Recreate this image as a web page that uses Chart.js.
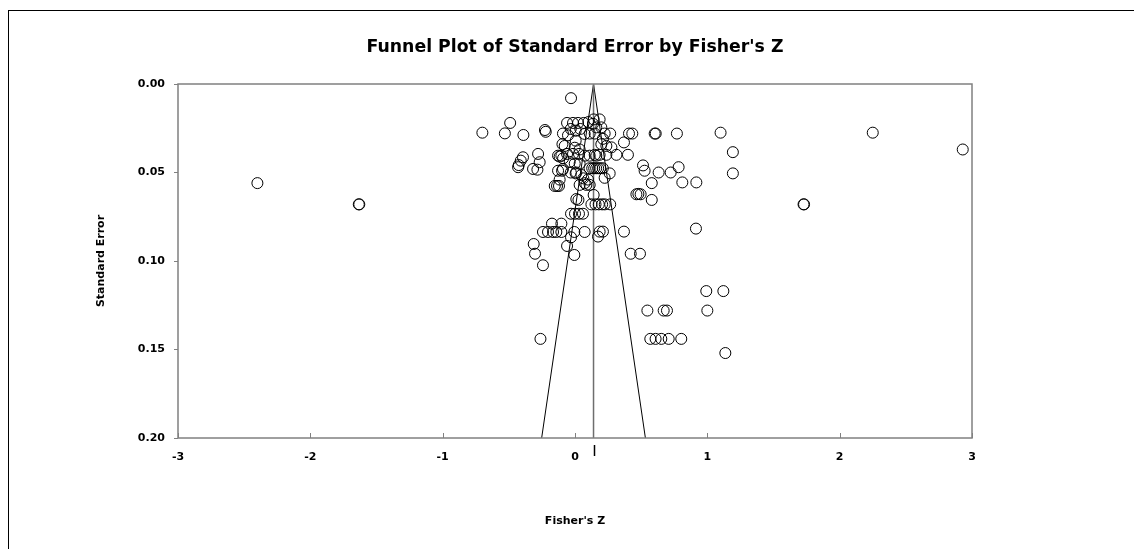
<!DOCTYPE html>
<html lang="en">
<head>
  <meta charset="UTF-8">
  <title>Funnel Plot of Standard Error by Fisher's Z</title>
  <script src="https://cdn.jsdelivr.net/npm/chart.js"></script>
  <style>
    body {
      margin: 0;
      background: #fff;
    }
    .wrap {
      position: relative;
      width: 1134px;
      height: 549px;
      overflow: hidden;
    }
    .frame {
      position: absolute;
      left: 8px;
      top: 10px;
      right: -4px;
      bottom: -4px;
      border-left: 1px solid #000;
      border-top: 1px solid #000;
    }
    canvas {
      position: absolute;
      left: 0;
      top: 0;
    }
  </style>
</head>
<body>
  <div class="wrap">
    <div class="frame"></div>
    <canvas id="funnel" width="1134" height="549"></canvas>
  </div>

  <script>
    // study effects (Fisher's Z) and their standard errors
    const fisherZ = [
      -2.40, -1.634, -1.630, 1.727, 1.731, 2.25, 2.93, 1.10, 1.193, 1.193,
      0.914, -0.70, -0.53, -0.49, -0.39, -0.227, -0.221, -0.03, -0.06, -0.015,
      0.023, 0.066, 0.101, 0.136, 0.141, 0.186, 0.161, 0.199, 0.111, 0.149,
      0.224, 0.266, 0.408, 0.433, 0.602, 0.610, 0.770, 0.211, 0.199, 0.237,
      0.275, 0.370, 0.313, 0.400, 0.149, 0.186, 0.237, 0.110, 0.130, 0.145,
      0.160, 0.175, 0.190, 0.210, 0.514, 0.526, 0.632, 0.723, 0.783, 0.262,
      0.224, 0.580, 0.811, 0.917, 0.464, 0.496, 0.580, 0.124, 0.155, 0.180,
      0.205, 0.225, 0.266, 0.141, 0.186, 0.211, 0.174, 0.370, 0.421, 0.491,
      -0.032, 0.005, 0.040, 0.073, -0.053, -0.091, -0.095, -0.078, 0.005, -0.002,
      0.035, -0.128, -0.103, -0.060, -0.015, 0.030, 0.073, 0.111, 0.161, -0.040,
      -0.002, 0.035, -0.091, -0.279, -0.267, -0.317, -0.430, -0.425, -0.410, -0.393,
      -0.284, -0.128, -0.098, -0.032, 0.010, -0.153, -0.136, -0.121, -0.116, 0.098,
      0.063, 0.086, 0.111, 0.035, 0.010, 0.026, 0.479, -0.030, 0.000, 0.030,
      0.060, -0.174, -0.103, -0.242, -0.204, -0.166, -0.141, -0.103, -0.005, 0.073,
      -0.030, -0.312, -0.060, -0.302, -0.005, -0.242, -0.261, 0.992, 1.121, 0.547,
      0.670, 0.695, 1.000, 0.569, 0.609, 0.652, 0.708, 0.803, 1.136, 0.005,
      0.048, 0.073, -0.116, -0.090
    ];
    const stdError = [
      0.056, 0.068, 0.068, 0.068, 0.068, 0.0275, 0.037, 0.0275, 0.0385, 0.0505,
      0.0817, 0.0275, 0.0279, 0.022, 0.0288, 0.026, 0.027, 0.008, 0.022, 0.022,
      0.022, 0.022, 0.0215, 0.0225, 0.020, 0.020, 0.0245, 0.0245, 0.028, 0.028,
      0.028, 0.028, 0.028, 0.028, 0.028, 0.028, 0.028, 0.031, 0.034, 0.035,
      0.0358, 0.033, 0.040, 0.040, 0.040, 0.040, 0.040, 0.0476, 0.0476, 0.0476,
      0.0476, 0.0476, 0.0476, 0.0476, 0.046, 0.049, 0.050, 0.050, 0.047, 0.0505,
      0.053, 0.056, 0.0556, 0.0556, 0.0623, 0.0623, 0.0655, 0.068, 0.068, 0.068,
      0.068, 0.068, 0.068, 0.0627, 0.0834, 0.0834, 0.0862, 0.0834, 0.0959, 0.0959,
      0.0254, 0.0264, 0.0254, 0.0282, 0.029, 0.028, 0.034, 0.035, 0.032, 0.036,
      0.037, 0.0405, 0.0405, 0.0395, 0.0395, 0.0395, 0.0405, 0.0405, 0.0405, 0.044,
      0.045, 0.045, 0.048, 0.0395, 0.0442, 0.048, 0.047, 0.0458, 0.0433, 0.0414,
      0.0484, 0.049, 0.049, 0.050, 0.050, 0.0576, 0.0576, 0.0576, 0.054, 0.054,
      0.0533, 0.057, 0.057, 0.057, 0.065, 0.0655, 0.0621, 0.0733, 0.0733, 0.0733,
      0.0733, 0.0789, 0.0789, 0.0836, 0.0836, 0.0836, 0.0836, 0.0836, 0.0836, 0.0836,
      0.0866, 0.0904, 0.0915, 0.0959, 0.0966, 0.1024, 0.144, 0.117, 0.117, 0.128,
      0.128, 0.128, 0.128, 0.144, 0.144, 0.144, 0.144, 0.144, 0.152, 0.0505,
      0.0514, 0.056, 0.041, 0.042
    ];

    // combined effect and the 95% funnel limits
    const meanZ = 0.14;
    const meanLineSE = [0, 0.2];
    const funnelZ = [-0.252, 0.14, 0.532];
    const funnelSE = [0.2, 0, 0.2];

    const xTicks = [-3, -2, -1, 0, 1, 2, 3];
    const yTicks = [0, 0.05, 0.1, 0.15, 0.2];

    const studies = fisherZ.map((z, i) => ({ x: z, y: stdError[i] }));
    const meanLine = meanLineSE.map(se => ({ x: meanZ, y: se }));
    const funnel = funnelZ.map((z, i) => ({ x: z, y: funnelSE[i] }));

    const wideFont = '"DejaVu Sans", Arial, sans-serif';
    const boldFont = { family: wideFont, size: 11, weight: 'bold' };

    // plot frame, inward x ticks and the little marker for the combined effect
    const plotExtras = {
      id: 'plotExtras',
      afterDraw(chart) {
        const { ctx, chartArea: a, scales } = chart;
        ctx.save();
        ctx.strokeStyle = '#808080';
        ctx.lineWidth = 1.5;
        ctx.strokeRect(a.left, a.top, a.right - a.left, a.bottom - a.top);

        ctx.lineWidth = 1;
        scales.x.ticks.forEach((t, i) => {
          const px = Math.round(scales.x.getPixelForTick(i)) + 0.5;
          ctx.beginPath();
          ctx.moveTo(px, a.bottom);
          ctx.lineTo(px, a.bottom - 5);
          ctx.stroke();
        });

        const mx = Math.round(scales.x.getPixelForValue(meanZ)) + 0.5;
        ctx.strokeStyle = '#000';
        ctx.lineWidth = 1.5;
        ctx.beginPath();
        ctx.moveTo(mx, a.bottom + 7);
        ctx.lineTo(mx, a.bottom + 18);
        ctx.stroke();
        ctx.restore();
      }
    };

    new Chart(document.getElementById('funnel'), {
      type: 'scatter',
      data: {
        datasets: [
          {
            label: 'Studies',
            data: studies,
            pointStyle: 'circle',
            pointRadius: 5.5,
            pointBorderWidth: 1,
            pointBorderColor: '#000',
            pointBackgroundColor: 'rgba(0,0,0,0)',
            showLine: false
          },
          {
            label: 'Mean',
            data: meanLine,
            showLine: true,
            borderColor: '#6e6e6e',
            borderWidth: 1.5,
            pointRadius: 0
          },
          {
            label: 'Funnel',
            data: funnel,
            showLine: true,
            borderColor: '#000',
            borderWidth: 1,
            pointRadius: 0,
            tension: 0
          }
        ]
      },
      options: {
        responsive: false,
        animation: false,
        layout: { padding: { top: 10, right: 162, bottom: 0, left: 0 } },
        plugins: {
          legend: { display: false },
          tooltip: { enabled: false },
          title: {
            display: true,
            fullSize: false,
            text: "Funnel Plot of Standard Error by Fisher's Z",
            color: '#000',
            font: { family: wideFont, size: 17.3, weight: 'bold' },
            padding: { top: 27, bottom: 26.24 }
          }
        },
        scales: {
          x: {
            type: 'linear',
            min: -3,
            max: 3,
            afterBuildTicks: s => { s.ticks = xTicks.map(v => ({ value: v })); },
            afterFit: s => { s.height = 111; },
            grid: { drawOnChartArea: false, drawTicks: false },
            border: { display: false },
            ticks: { color: '#000', font: boldFont, padding: 13, maxRotation: 0 },
            title: {
              display: true,
              text: "Fisher's Z",
              color: '#000',
              font: boldFont,
              padding: { top: 0, bottom: 21.4 }
            }
          },
          y: {
            type: 'linear',
            reverse: true,
            min: 0,
            max: 0.2,
            afterBuildTicks: s => { s.ticks = yTicks.map(v => ({ value: v })); },
            afterFit: s => { s.width = 178; },
            grid: { drawOnChartArea: false, drawTicks: true, tickLength: 4, color: '#808080' },
            border: { display: false },
            ticks: {
              color: '#000',
              font: boldFont,
              padding: 9,
              callback: v => v.toFixed(2)
            },
            title: {
              display: true,
              text: 'Standard Error',
              color: '#000',
              font: boldFont,
              padding: { top: 94.4, bottom: 0 }
            }
          }
        }
      },
      plugins: [plotExtras]
    });
  </script>
</body>
</html>
